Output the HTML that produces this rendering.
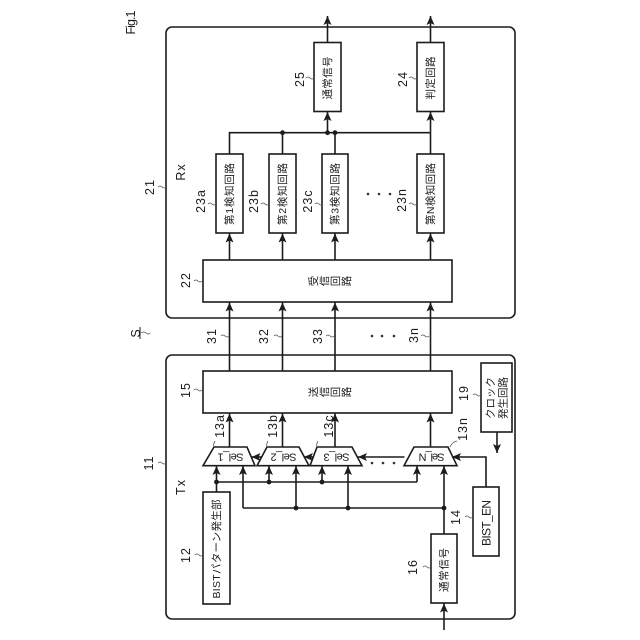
<!DOCTYPE html>
<html>
<head>
<meta charset="utf-8">
<style>
html,body{margin:0;padding:0;background:#fff}
svg{display:block}
text{font-family:"Liberation Sans","Noto Sans CJK JP",sans-serif;fill:#1c1c1c;text-anchor:middle;dominant-baseline:central}
.b{fill:#fff;stroke:#1c1c1c;stroke-width:1.6}
.l{fill:none;stroke:#1c1c1c;stroke-width:1.6}
.s{fill:none;stroke:#555;stroke-width:.8}
.n{font-size:12.5px;letter-spacing:1px}
.t{font-size:10.5px}
</style>
</head>
<body>
<svg width="640" height="640" viewBox="0 0 640 640" xmlns="http://www.w3.org/2000/svg">
<defs>
<marker id="a" markerUnits="userSpaceOnUse" markerWidth="10" markerHeight="10" refX="9" refY="4.500" orient="auto"><path d="M0 0.500L9 4.500L0 8.500L2 4.500Z" fill="#1c1c1c"/></marker>
<g id="sq"><path class="s" d="M0 0q2-2 4 0t4 0"/></g>
</defs>

<rect class="l" x="166" y="27" width="349" height="291" rx="6"/>
<rect class="l" x="166" y="355" width="349" height="264" rx="6"/>

<!-- Rx boxes -->
<rect class="b" x="314" y="42.500" width="27" height="69"/>
<rect class="b" x="417" y="42.500" width="27" height="69"/>
<rect class="b" x="216" y="154" width="27" height="79"/>
<rect class="b" x="269" y="154" width="27" height="79"/>
<rect class="b" x="322" y="154" width="26" height="79"/>
<rect class="b" x="417" y="154" width="27" height="79"/>
<rect class="b" x="203" y="260" width="249" height="42"/>

<!-- Rx lines -->
<path class="l" d="M229.500 154V132.700H430.500M282.500 154V132.700M335 154V132.700M430.500 154V132.700"/>
<path class="l" marker-end="url(#a)" d="M327.500 132.700V112"/>
<path class="l" marker-end="url(#a)" d="M430.500 132.700V112"/>
<path class="l" marker-end="url(#a)" d="M327.500 42.500V16"/>
<path class="l" marker-end="url(#a)" d="M430.500 42.500V16"/>
<g fill="#1c1c1c"><circle cx="282.500" cy="132.700" r="2.400"/><circle cx="327.500" cy="132.700" r="2.400"/><circle cx="335" cy="132.700" r="2.400"/></g>
<path class="l" marker-end="url(#a)" d="M229.500 260V233.500"/>
<path class="l" marker-end="url(#a)" d="M282.500 260V233.500"/>
<path class="l" marker-end="url(#a)" d="M335 260V233.500"/>
<path class="l" marker-end="url(#a)" d="M430.500 260V233.500"/>
<path class="l" marker-end="url(#a)" d="M229.500 371V302.500"/>
<path class="l" marker-end="url(#a)" d="M282.500 371V302.500"/>
<path class="l" marker-end="url(#a)" d="M335 371V302.500"/>
<path class="l" marker-end="url(#a)" d="M430.500 371V302.500"/>

<!-- Tx boxes -->
<rect class="b" x="203" y="371" width="249" height="42"/>
<rect class="b" x="481" y="363" width="31" height="69"/>
<rect class="b" x="203" y="492" width="27" height="112"/>
<rect class="b" x="431" y="534" width="26" height="69"/>
<rect class="b" x="473" y="487" width="26" height="69"/>

<!-- Selectors -->
<path class="b" d="M203 465.700H255L247 447H214Z"/>
<path class="b" d="M257 465.700H309L299 447H267Z"/>
<path class="b" d="M310 465.700H362L352 447H317Z"/>
<path class="b" d="M404 465.700H457L448 447H414Z"/>
<path class="l" marker-end="url(#a)" d="M229.500 447V413.500"/>
<path class="l" marker-end="url(#a)" d="M282.500 447V413.500"/>
<path class="l" marker-end="url(#a)" d="M335 447V413.500"/>
<path class="l" marker-end="url(#a)" d="M430.500 447V413.500"/>
<path class="l" marker-end="url(#a)" d="M262 457H251.500"/>
<path class="l" marker-end="url(#a)" d="M314 457H304"/>
<path class="l" marker-end="url(#a)" d="M404.500 457H358"/>
<path class="l" d="M216.500 482H417"/>
<path class="l" d="M243 508H444"/>
<path class="l" marker-end="url(#a)" d="M216.500 492V466"/>
<path class="l" marker-end="url(#a)" d="M269 482V466"/>
<path class="l" marker-end="url(#a)" d="M322 482V466"/>
<path class="l" marker-end="url(#a)" d="M417 482V466"/>
<path class="l" marker-end="url(#a)" d="M243 508V466"/>
<path class="l" marker-end="url(#a)" d="M296 508V466"/>
<path class="l" marker-end="url(#a)" d="M348 508V466"/>
<path class="l" marker-end="url(#a)" d="M444 534V466"/>
<path class="l" marker-end="url(#a)" d="M444 630V603.500"/>
<path class="l" marker-end="url(#a)" d="M486 487V457H452"/>
<path class="l" marker-end="url(#a)" d="M497 432V453"/>
<g fill="#1c1c1c"><circle cx="216.500" cy="482" r="2.400"/><circle cx="269" cy="482" r="2.400"/><circle cx="322" cy="482" r="2.400"/><circle cx="296" cy="508" r="2.400"/><circle cx="348" cy="508" r="2.400"/><circle cx="444" cy="508" r="2.400"/></g>

<!-- dots -->
<g fill="#333"><circle cx="368" cy="194" r="1.300"/><circle cx="379" cy="194" r="1.300"/><circle cx="390" cy="194" r="1.300"/><circle cx="372" cy="336" r="1.300"/><circle cx="382" cy="336" r="1.300"/><circle cx="394" cy="336" r="1.300"/><circle cx="372" cy="463" r="1.300"/><circle cx="383" cy="463" r="1.300"/><circle cx="394" cy="463" r="1.300"/></g>

<!-- box text -->
<g class="t" transform="translate(0.500 0)">
<text transform="translate(327.500 78) rotate(-90)" textLength="43" lengthAdjust="spacing">通常信号</text>
<text transform="translate(430.500 78) rotate(-90)" textLength="43" lengthAdjust="spacing">判定回路</text>
<text transform="translate(229.500 194) rotate(-90)" textLength="62">第1検知回路</text>
<text transform="translate(282.500 194) rotate(-90)" textLength="62">第2検知回路</text>
<text transform="translate(335 194) rotate(-90)" textLength="62">第3検知回路</text>
<text transform="translate(430.500 194) rotate(-90)" textLength="62">第N検知回路</text>
<text transform="translate(216.500 549) rotate(-90)" textLength="99">BISTパターン発生部</text>
<text transform="translate(444 570) rotate(-90)" textLength="44">通常信号</text>
<text transform="translate(486 523) rotate(-90)" textLength="46" font-size="12">BIST_EN</text>
<text transform="translate(490.500 398) rotate(-90)" textLength="42">クロック</text>
<text transform="translate(503 398) rotate(-90)" textLength="42">発生回路</text>
<!-- horizontal-run, rotated glyphs -->
<text transform="translate(313.500 281) rotate(-90)">受</text><text transform="translate(324.500 281) rotate(-90)">信</text><text transform="translate(335.500 281) rotate(-90)">回</text><text transform="translate(346.500 281) rotate(-90)">路</text>
<text transform="translate(313.500 392) rotate(-90)">送</text><text transform="translate(324.500 392) rotate(-90)">信</text><text transform="translate(335.500 392) rotate(-90)">回</text><text transform="translate(346.500 392) rotate(-90)">路</text>
<text transform="translate(230 456.500) rotate(180)" textLength="26" font-size="11">Sel_1</text>
<text transform="translate(283 456.500) rotate(180)" textLength="26" font-size="11">Sel_2</text>
<text transform="translate(336 456.500) rotate(180)" textLength="26" font-size="11">Sel_3</text>
<text transform="translate(431 456.500) rotate(180)" textLength="26" font-size="11">Sel_N</text>
</g>

<!-- reference labels -->
<g class="n" transform="translate(1 0)">
<text transform="translate(130 22) rotate(-90)" textLength="25">Fig.1</text>
<text transform="translate(299 79) rotate(-90)">25</text>
<text transform="translate(402 79) rotate(-90)">24</text>
<text transform="translate(149 187) rotate(-90)">21</text>
<text transform="translate(180 172) rotate(-90)">Rx</text>
<text transform="translate(200 201) rotate(-90)">23a</text>
<text transform="translate(253 201) rotate(-90)">23b</text>
<text transform="translate(307 201) rotate(-90)">23c</text>
<text transform="translate(401 200) rotate(-90)">23n</text>
<text transform="translate(185 280) rotate(-90)">22</text>
<text transform="translate(211 336) rotate(-90)">31</text>
<text transform="translate(263 336) rotate(-90)">32</text>
<text transform="translate(317 336) rotate(-90)">33</text>
<text transform="translate(413 335) rotate(-90)">3n</text>
<text transform="translate(135 333) rotate(-90)">S</text>
<text transform="translate(185 390) rotate(-90)">15</text>
<text transform="translate(148 463) rotate(-90)">11</text>
<text transform="translate(180 487) rotate(-90)">Tx</text>
<text transform="translate(219 426) rotate(-90)">13a</text>
<text transform="translate(272 426) rotate(-90)">13b</text>
<text transform="translate(328 426) rotate(-90)">13c</text>
<text transform="translate(462 429) rotate(-90)">13n</text>
<text transform="translate(463 393) rotate(-90)">19</text>
<text transform="translate(455 517) rotate(-90)">14</text>
<text transform="translate(412 567) rotate(-90)">16</text>
<text transform="translate(185 555) rotate(-90)">12</text>
</g>

<!-- leaders -->
<use href="#sq" x="306" y="78"/>
<use href="#sq" x="409" y="78"/>
<use href="#sq" x="158" y="187"/>
<use href="#sq" x="208" y="204"/>
<use href="#sq" x="261" y="204"/>
<use href="#sq" x="315" y="204"/>
<use href="#sq" x="409" y="204"/>
<use href="#sq" x="194" y="281"/>
<use href="#sq" x="221" y="336"/>
<use href="#sq" x="274" y="336"/>
<use href="#sq" x="326" y="336"/>
<use href="#sq" x="421" y="336"/>
<use href="#sq" x="194" y="390"/>
<use href="#sq" x="158" y="463"/>
<use href="#sq" x="473" y="395"/>
<use href="#sq" x="465" y="517"/>
<use href="#sq" x="423" y="567"/>
<use href="#sq" x="195" y="555"/>
<path class="s" d="M214 447q-1-3 1-6M267 447q-1-3 1-6M317 447q-1-3 1-6M450 447q2-5 7-6"/>
<path class="l" style="stroke-width:1" d="M140 327V339"/>
<path class="s" d="M141 333q2.500-2 5 0t4 0"/>
</svg>
</body>
</html>
